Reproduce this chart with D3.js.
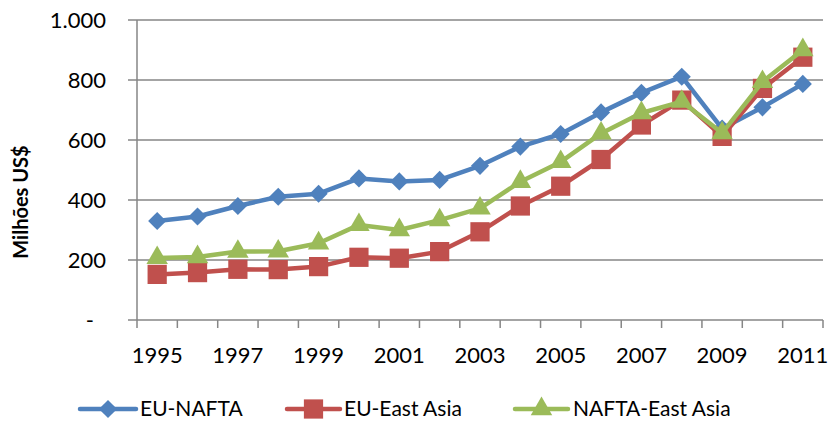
<!DOCTYPE html>
<html><head><meta charset="utf-8">
<script src="https://cdn.jsdelivr.net/npm/d3@7"></script>
<style>body{margin:0;background:#fff}svg{display:block}text{font-family:Lato,"Open Sans",sans-serif;fill:#000}</style>
</head><body><svg id="c" width="831" height="422"></svg>
<script>
const years = [1995,1996,1997,1998,1999,2000,2001,2002,2003,2004,2005,2006,2007,2008,2009,2010,2011];
const euNafta = [330,345,380,411,421,472,462,467,514,578,620,692,757,811,638,709,787];
const euEastAsia = [152,158,169,168,178,209,206,228,294,380,446,535,650,733,612,772,876];
const naftaEastAsia = [207,210,228,229,256,317,300,333,372,461,527,622,690,728,623,794,900];
const yTicks = [0,200,400,600,800,1000];
const yTickLabels = ["-","200","400","600","800","1.000"];
const xLabelYears = [1995,1997,1999,2001,2003,2005,2007,2009,2011];
const seriesNames = ["EU-NAFTA","EU-East Asia","NAFTA-East Asia"];
const colors = ["#4F81BD","#C0504D","#9BBB59"];
const symbols = [d3.symbolDiamond2, d3.symbolSquare, d3.symbolTriangle];

const svg = d3.select("#c");
const L = 137, R = 823, T = 20, B = 320;
const x = d3.scaleBand().domain(years).range([L, R]);
const y = d3.scaleLinear().domain([0, 1000]).range([B, T]);
const grid = "#868686";

svg.append("g").selectAll("line").data(yTicks).join("line")
  .attr("x1", L - 9).attr("x2", R).attr("y1", d => y(d)).attr("y2", d => y(d))
  .attr("stroke", grid).attr("stroke-width", 1.5);
svg.append("line").attr("x1", L).attr("x2", L).attr("y1", T).attr("y2", B)
  .attr("stroke", grid).attr("stroke-width", 1.5);
const bounds = years.map(d => x(d)).concat([R]);
svg.append("g").selectAll("line").data(bounds).join("line")
  .attr("x1", d => d).attr("x2", d => d).attr("y1", B).attr("y2", B + 8)
  .attr("stroke", grid).attr("stroke-width", 1.5);

svg.append("g").selectAll("text").data(yTicks).join("text")
  .attr("x", (d,i) => d === 0 ? 94 : 106).attr("y", d => y(d)).attr("dy", "0.36em")
  .attr("text-anchor", "end").attr("font-size", 22)
  .text((d,i) => yTickLabels[i]);
svg.append("g").selectAll("text").data(xLabelYears).join("text")
  .attr("x", d => x(d) + x.bandwidth()/2).attr("y", 363)
  .attr("text-anchor", "middle").attr("font-size", 22).text(d => d);

svg.append("text").attr("transform", "translate(28,202) rotate(-90)")
  .attr("text-anchor", "middle").attr("font-size", 20).attr("font-weight", "bold")
  .text("Milhões US$");

const data = [euNafta, euEastAsia, naftaEastAsia];
const line = d3.line().x((d,i) => x(years[i]) + x.bandwidth()/2).y(d => y(d));
const markerSizes = [210, 370, 200];
data.forEach((s, k) => {
  const g = svg.append("g");
  g.append("path").datum(s).attr("d", line).attr("fill", "none")
    .attr("stroke", colors[k]).attr("stroke-width", 4.5).attr("stroke-linejoin", "round");
  g.selectAll("path.m").data(s).join("path").attr("class", "m")
    .attr("transform", (d,i) => `translate(${x(years[i]) + x.bandwidth()/2},${y(d)})`)
    .attr("d", d3.symbol().type(symbols[k]).size(markerSizes[k]))
    .attr("fill", colors[k]);
});

const legend = [
  {x1: 80, x2: 136, tx: 140},
  {x1: 287, x2: 340, tx: 344},
  {x1: 515, x2: 568, tx: 573}
];
const ly = 409;
legend.forEach((l, k) => {
  const g = svg.append("g");
  g.append("line").attr("x1", l.x1).attr("x2", l.x2).attr("y1", ly).attr("y2", ly)
    .attr("stroke", colors[k]).attr("stroke-width", 4.5).attr("stroke-linecap", "round");
  g.append("path").attr("transform", `translate(${(l.x1 + l.x2)/2},${ly})`)
    .attr("d", d3.symbol().type(symbols[k]).size(markerSizes[k])).attr("fill", colors[k]);
  g.append("text").attr("x", l.tx).attr("y", ly).attr("dy", "0.34em")
    .attr("font-size", 21).text(seriesNames[k]);
});
</script></body></html>
